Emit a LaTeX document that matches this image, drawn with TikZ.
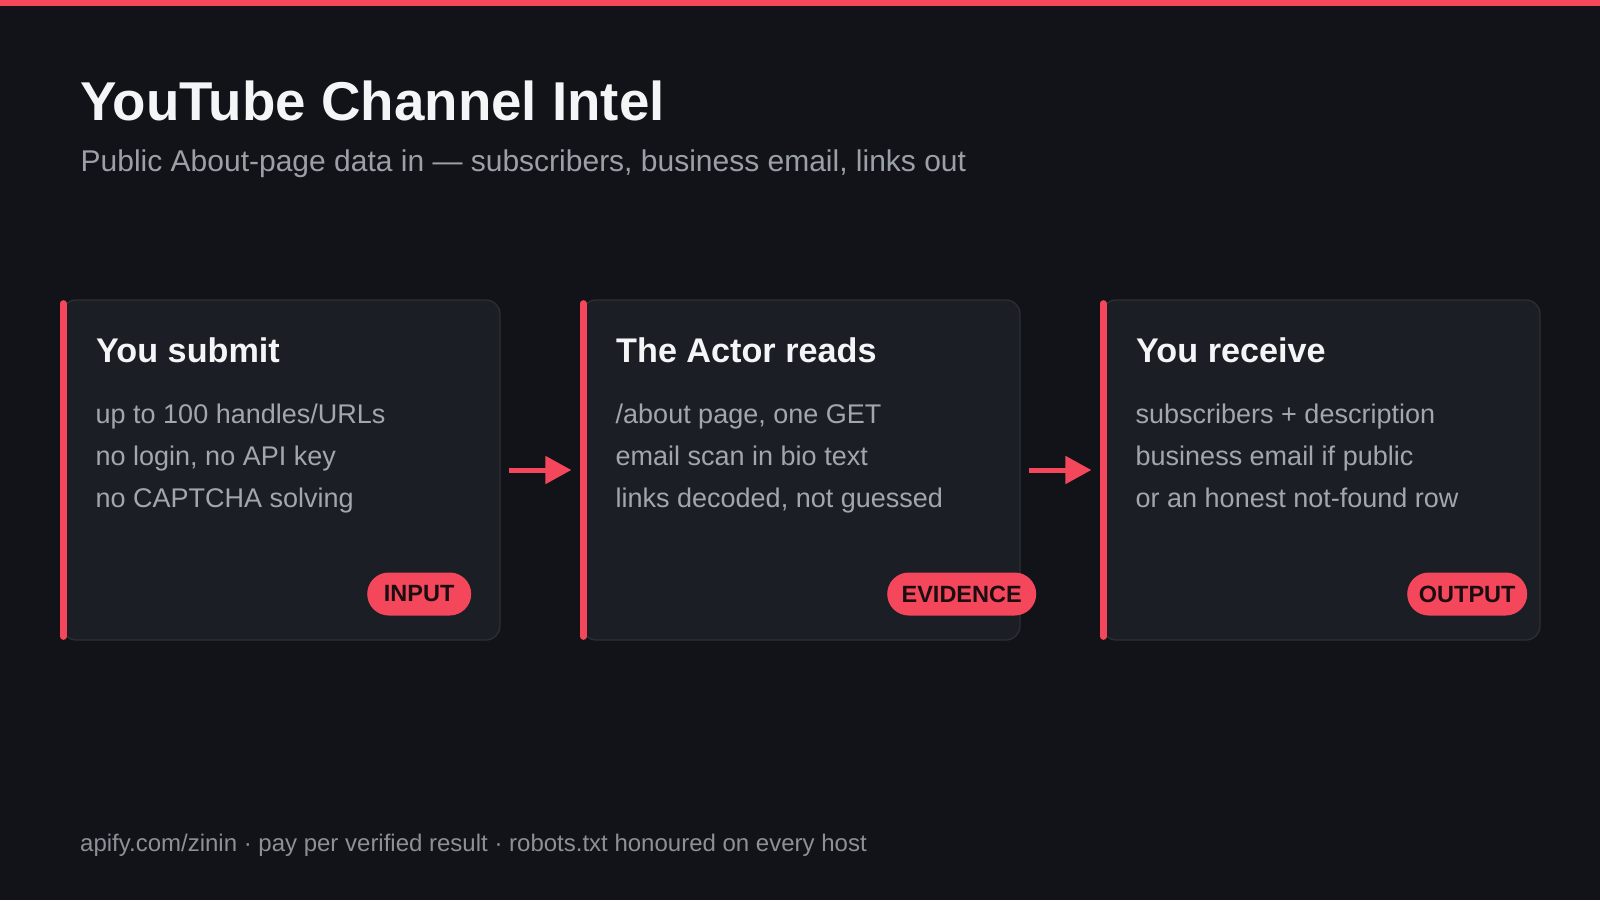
\documentclass[tikz,border=0pt]{standalone}
\usepackage{fontspec}
\setmainfont{Liberation Sans}
\usepackage{tikz}
\usetikzlibrary{arrows.meta, positioning}
\usepackage{xcolor}
\definecolor{bgdark}{HTML}{111318}
\definecolor{cardfill}{HTML}{1B1E24}
\definecolor{cardline}{HTML}{2C3037}
\definecolor{accent}{HTML}{F4475B}
\definecolor{titlewhite}{HTML}{F4F5F7}
\definecolor{bodygray}{HTML}{A2A6AD}
\definecolor{subgray}{HTML}{9BA0A8}
\definecolor{footgray}{HTML}{8C9198}
\definecolor{pilltext}{HTML}{1A0E11}
\tikzset{%
	card/.style={
		draw=cardline,
		line width=1.2pt,
		fill=cardfill,
		rounded corners=14pt,
		minimum width=438pt,
		minimum height=340pt,
		inner sep=0pt
	},
	accent bar/.style={
		accent,
		line width=6.5pt,
		line cap=round
	},
	headtxt/.style={
		anchor=base west,
		inner sep=0pt,
		text=titlewhite,
		font=\bfseries\fontsize{34.2}{40}\selectfont
	},
	bodytxt/.style={
		anchor=base west,
		inner sep=0pt,
		text=bodygray,
		font=\fontsize{27}{32}\selectfont
	},
	pill/.style={
		anchor=west,
		fill=accent,
		rounded corners=21.5pt,
		minimum height=43pt,
		inner xsep=0pt,
		inner ysep=0pt,
		text=pilltext,
		font=\bfseries\fontsize{23.5}{28}\selectfont
	},
	flow/.style={
		accent,
		line width=5pt,
		-{Triangle[length=26pt,width=27pt]},
		shorten <=8pt,
		shorten >=10pt
	},
}

\begin{document}
\begin{tikzpicture}[x=1pt,y=-1pt]
	% Background and top stripe
	\useasboundingbox (0,0) rectangle (1600,900);
	\fill[bgdark] (0,0) rectangle (1600,900);
	\fill[accent] (0,0) rectangle (1600,6);
	
	% Title and subtitle
	\node[anchor=base west, inner sep=0pt, text=titlewhite, font=\bfseries\fontsize{54.7}{60}\selectfont] (title) at (80,120) {YouTube Channel Intel};
	\node[anchor=base west, inner sep=0pt, text=subgray, font=\fontsize{30}{36}\selectfont] (subtitle) at (80.5,171) {Public About-page data in — subscribers, business email, links out};
	
	% Draw the three cards
	\node[card] (card1) at (281,470) {};
	\node[card] (card2) at (801,470) {};
	\node[card] (card3) at (1321,470) {};
	\foreach \c in {card1,card2,card3}
		\draw[accent bar] ([xshift=2pt,yshift=-4pt]\c.north west) -- ([xshift=2pt,yshift=4pt]\c.south west);
	
	% First card
	\node[headtxt] (head1) at (96,362) {You submit};
	\node[bodytxt] (body1a) at (95.5,423) {up to 100 handles/URLs};
	\node[bodytxt] (body1b) at (95.5,465) {no login, no API key};
	\node[bodytxt] (body1c) at (95.5,507) {no CAPTCHA solving};
	\node[pill, minimum width=104pt] (tag1) at (367,594) {INPUT};
	
	% Second card
	\node[headtxt] (head2) at (616,362) {The Actor reads};
	\node[bodytxt] (body2a) at (615.5,423) {/about page, one GET};
	\node[bodytxt] (body2b) at (615.5,465) {email scan in bio text};
	\node[bodytxt] (body2c) at (615.5,507) {links decoded, not guessed};
	\node[pill, minimum width=149pt] (tag2) at (887,594) {EVIDENCE};
	
	% Third card
	\node[headtxt] (head3) at (1136,362) {You receive};
	\node[bodytxt] (body3a) at (1135.5,423) {subscribers + description};
	\node[bodytxt] (body3b) at (1135.5,465) {business email if public};
	\node[bodytxt] (body3c) at (1135.5,507) {or an honest not-found row};
	\node[pill, minimum width=120pt] (tag3) at (1407,594) {OUTPUT};
	
	% Draw the arrows
	\draw[flow] (card1.east) -- (card2.west);
	\draw[flow] (card2.east) -- (card3.west);
	
	% Footer
	\node[anchor=base west, inner sep=0pt, text=footgray, font=\fontsize{24}{28}\selectfont] (footer) at (80,851) {apify.com/zinin · pay per verified result · robots.txt honoured on every host};
\end{tikzpicture}
\end{document}
